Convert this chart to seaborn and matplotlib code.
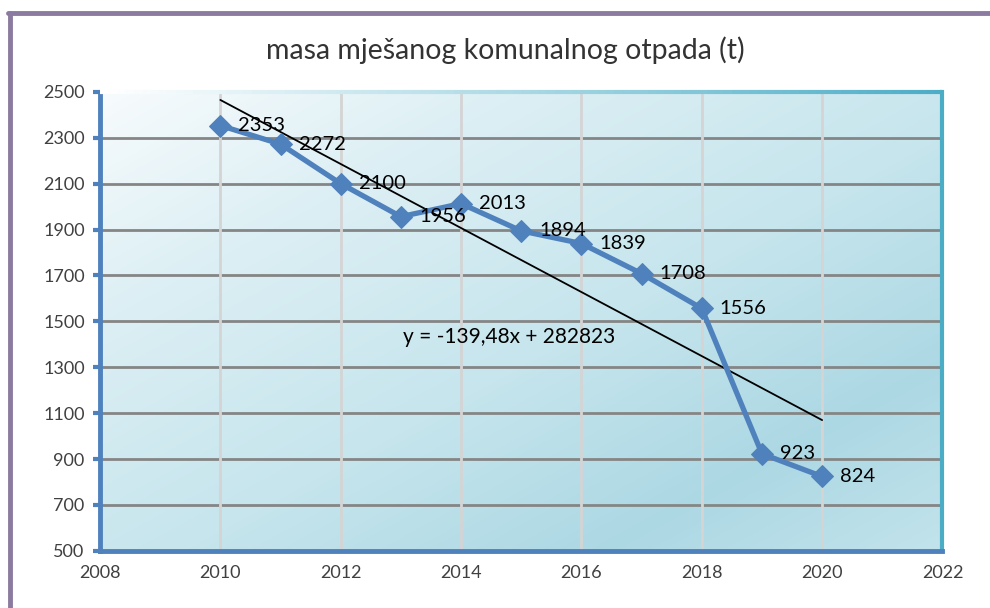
import numpy as np
import pandas as pd
import seaborn as sns
import matplotlib
matplotlib.use("Agg")
import matplotlib.pyplot as plt
from matplotlib.lines import Line2D
from matplotlib.collections import LineCollection
from matplotlib.colors import LinearSegmentedColormap

# data: mixed municipal waste mass (t) per year
years = [2010, 2011, 2012, 2013, 2014, 2015, 2016, 2017, 2018, 2019, 2020]
masa = [2353, 2272, 2100, 1956, 2013, 1894, 1839, 1708, 1556, 923, 824]
x_ticks = [2008, 2010, 2012, 2014, 2016, 2018, 2020, 2022]
y_ticks = [500, 700, 900, 1100, 1300, 1500, 1700, 1900, 2100, 2300, 2500]

df = pd.DataFrame({"godina": years, "masa": masa})

sns.set_style("white")
plt.rcParams["font.family"] = ["Lato", "DejaVu Sans"]

fig = plt.figure(figsize=(9.9, 6.08), dpi=100)
ax = fig.add_axes([0.101, 0.094, 0.851, 0.755])

# diagonal gradient background (white top-left, darkest band near bottom-right)
grad_cmap = LinearSegmentedColormap.from_list(
    "bg", [(0.0, "#f7fbfd"), (0.25, "#dceff4"), (0.55, "#c6e5ed"),
           (0.8, "#acd8e4"), (1.0, "#c2e3eb")])
gx, gy = np.meshgrid(np.linspace(0, 1, 200), np.linspace(0, 1, 200))
ax.imshow((gx + gy) / 2, cmap=grad_cmap, extent=[0, 1, 0, 1],
          transform=ax.transAxes, aspect="auto", zorder=0, origin="upper")

ax.set_xlim(2008, 2022)
ax.set_ylim(500, 2500)
ax.set_xticks(x_ticks)
ax.set_yticks(y_ticks)

for y in y_ticks[1:-1]:
    ax.axhline(y, color="#858585", lw=2, zorder=1)
for x in x_ticks[1:-1]:
    ax.axvline(x, color="#d4d4d4", lw=2, zorder=1)

# linear trendline
k, b = np.polyfit(years, masa, 1)
tx = np.array([years[0], years[-1]])
ax.plot(tx, k * tx + b, color="black", lw=1.3, zorder=3)
eq = "y = {:.2f}x + {:.0f}".format(k, b).replace(".", ",")
ax.text(2013.03, 1432, eq, fontsize=15, color="black", va="center", zorder=5)

sns.lineplot(data=df, x="godina", y="masa", ax=ax, color="#4f81bd", lw=3.8,
             marker="D", markersize=11, markeredgecolor="#4f81bd", zorder=4)

for x, y in zip(years, masa):
    ax.annotate(str(y), (x, y), xytext=(13, 0), textcoords="offset points",
                ha="left", va="center", fontsize=14.5, color="black", zorder=5)

ax.set_xlabel("")
ax.set_ylabel("")
ax.tick_params(axis="y", direction="out", length=5, width=3, color="#4f81bd",
               labelsize=13, labelcolor="#404040", pad=6, left=True)
ax.tick_params(axis="x", length=0, labelsize=13, labelcolor="#404040", pad=10)

ax.spines["left"].set_color("#4f81bd")
ax.spines["left"].set_linewidth(3.5)
ax.spines["bottom"].set_color("#4f81bd")
ax.spines["bottom"].set_linewidth(3.5)
ax.spines["top"].set_visible(False)
ax.spines["right"].set_color("#4bacc6")
ax.spines["right"].set_linewidth(3)

# top border fades from white to teal
top_cmap = LinearSegmentedColormap.from_list("top", ["#ffffff", "#a9d8e4", "#4bacc6"])
sx = np.linspace(0, 1, 101)
segs = [[(sx[i], 1), (sx[i + 1], 1)] for i in range(100)]
top = LineCollection(segs, colors=top_cmap(sx[:-1]), lw=3,
                     transform=ax.transAxes, clip_on=False, zorder=6)
ax.add_collection(top)

fig.text(0.51, 0.918, "masa mješanog komunalnog otpada (t)", ha="center",
         va="center", fontsize=20.5, color="#333333")

# purple frame lines at top and left
fig.add_artist(Line2D([0.008, 1.0], [0.979, 0.979], color="#8b7ba0", lw=3.5))
fig.add_artist(Line2D([0.0101, 0.0101], [0.0, 0.979], color="#8b7ba0", lw=3.5))

fig.savefig("out.png", dpi=100)
